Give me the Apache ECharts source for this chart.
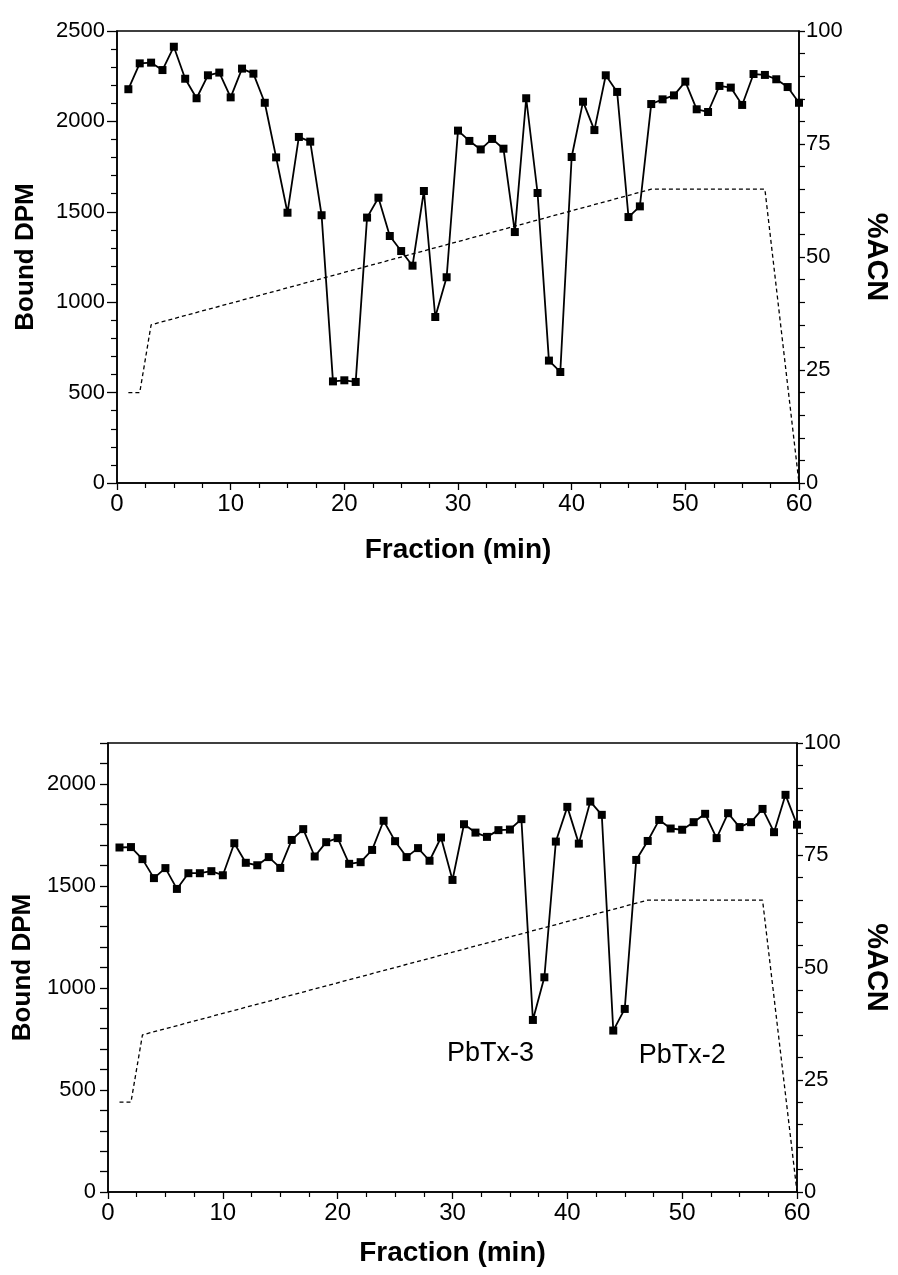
<!DOCTYPE html>
<html lang="en">
<head>
    <meta charset="UTF-8">
    <title>Bound DPM / %ACN</title>
    <script src="https://cdn.jsdelivr.net/npm/echarts@6/dist/echarts.min.js"></script>
    <style>
        html, body { margin: 0; padding: 0; background: #fff; }
        #chart { width: 898px; height: 1275px; }
    </style>
</head>
<body>
<div id="chart"></div>
<script type="text/javascript">
    // fractions 1..60
    var fractions = [];
    for (var f = 1; f <= 60; f++) fractions.push(f);

    // top panel, bound DPM per fraction
    var dpmTop = [2178, 2321, 2325, 2284, 2413, 2236, 2128, 2255, 2270, 2133,
                  2292, 2264, 2103, 1801, 1495, 1914, 1888, 1481, 562, 568,
                  559, 1468, 1578, 1366, 1283, 1202, 1615, 918, 1138, 1949,
                  1892, 1845, 1903, 1849, 1388, 2128, 1604, 677, 614, 1803,
                  2109, 1952, 2255, 2163, 1471, 1530, 2096, 2122, 2144, 2220,
                  2067, 2052, 2196, 2187, 2091, 2262, 2257, 2233, 2190, 2103];

    // bottom panel
    var dpmBottom = [1688, 1690, 1631, 1538, 1587, 1485, 1562, 1562, 1572, 1552,
                     1709, 1613, 1601, 1641, 1588, 1725, 1778, 1644, 1714, 1734,
                     1608, 1616, 1676, 1819, 1719, 1641, 1685, 1623, 1737, 1529,
                     1802, 1761, 1740, 1773, 1776, 1827, 843, 1052, 1717, 1887,
                     1707, 1913, 1848, 791, 897, 1627, 1720, 1823, 1781, 1775,
                     1812, 1853, 1734, 1856, 1788, 1812, 1877, 1763, 1946, 1800];

    // acetonitrile gradient (same for both runs)
    var acnTime = [1, 2, 3, 47, 57, 60];
    var acnPct = [20, 20, 35, 65, 65, 0];

    // peak labels (bottom panel)
    var annoNames = ['PbTx-3', 'PbTx-2'];
    var annoX = [33.3, 50.0];
    var annoY = [676, 667];

    var xTicks = [0, 10, 20, 30, 40, 50, 60];

    function pairs(xs, ys) {
        var out = [];
        for (var i = 0; i < xs.length; i++) out.push([xs[i], ys[i]]);
        return out;
    }

    var FONT = "'Liberation Sans', Arial, sans-serif";
    var black = '#000';

    function xAxis(idx, gap) {
        return {
            type: 'value', gridIndex: idx,
            min: xTicks[0], max: xTicks[xTicks.length - 1], interval: 10,
            name: 'Fraction (min)', nameLocation: 'middle', nameGap: gap,
            nameTextStyle: { fontFamily: FONT, fontWeight: 'bold', fontSize: 28, color: black },
            axisLine: { lineStyle: { color: black, width: 1.5 } },
            axisTick: { length: 7, lineStyle: { color: black, width: 1.3 } },
            minorTick: { show: true, splitNumber: 4, length: 5, lineStyle: { color: black, width: 1.2 } },
            axisLabel: { margin: 9, fontFamily: FONT, fontSize: 24, color: black },
            splitLine: { show: false }
        };
    }

    function leftAxis(idx, max, gap, tickEvery) {
        return {
            type: 'value', gridIndex: idx, position: 'left',
            min: 0, max: max, interval: tickEvery,
            name: 'Bound DPM', nameLocation: 'middle', nameGap: gap,
            nameTextStyle: { fontFamily: FONT, fontWeight: 'bold', fontSize: 26, color: black },
            axisLine: { show: true, lineStyle: { color: black, width: 1.5 } },
            axisTick: { length: tickEvery === 500 ? 10 : 8, lineStyle: { color: black, width: 1.3 } },
            minorTick: { show: tickEvery === 500, splitNumber: 5, length: 6, lineStyle: { color: black, width: 1.2 } },
            axisLabel: {
                margin: 12, fontFamily: FONT, fontSize: 22, color: black,
                formatter: function (v) { return v % 500 === 0 ? String(v) : ''; }
            },
            splitLine: { show: false }
        };
    }

    function rightAxis(idx, gap) {
        return {
            type: 'value', gridIndex: idx, position: 'right',
            min: 0, max: 100, interval: 25,
            name: '%ACN', nameLocation: 'middle', nameGap: gap, nameRotate: -90,
            nameTextStyle: { fontFamily: FONT, fontWeight: 'bold', fontSize: 29, color: black },
            axisLine: { show: true, lineStyle: { color: black, width: 1.5 } },
            axisTick: { length: 6, lineStyle: { color: black, width: 1.3 } },
            minorTick: { show: true, splitNumber: 5, length: 6, lineStyle: { color: black, width: 1.2 } },
            axisLabel: { margin: 7, fontFamily: FONT, fontSize: 22, color: black },
            splitLine: { show: false }
        };
    }

    function dpmSeries(xi, yi, vals) {
        return {
            type: 'line', xAxisIndex: xi, yAxisIndex: yi,
            data: pairs(fractions, vals),
            symbol: 'rect', symbolSize: 8, showAllSymbol: true,
            lineStyle: { color: black, width: 1.8 },
            itemStyle: { color: black },
            animation: false, z: 3
        };
    }

    function acnSeries(xi, yi) {
        return {
            type: 'line', xAxisIndex: xi, yAxisIndex: yi,
            data: pairs(acnTime, acnPct),
            symbol: 'none',
            lineStyle: { color: black, width: 1.3, type: [4, 3] },
            animation: false, z: 2
        };
    }

    var annoData = [];
    for (var k = 0; k < annoNames.length; k++) {
        annoData.push({ name: annoNames[k], coord: [annoX[k], annoY[k]] });
    }

    var bottomSeries = dpmSeries(1, 2, dpmBottom);
    bottomSeries.markPoint = {
        symbol: 'rect', symbolSize: 1,
        itemStyle: { color: 'rgba(0,0,0,0)' },
        label: { show: true, position: 'inside', formatter: '{b}', fontFamily: FONT, fontSize: 27, color: black },
        data: annoData
    };

    var myChart = echarts.init(document.getElementById('chart'), null, { renderer: 'canvas' });
    var option = {
        backgroundColor: '#fff',
        animation: false,
        grid: [
            { left: 117, right: 96, top: 31, bottom: 792, show: true, borderColor: black, borderWidth: 1.5, backgroundColor: 'transparent' },
            { left: 108, right: 101, top: 743, bottom: 83, show: true, borderColor: black, borderWidth: 1.5, backgroundColor: 'transparent' }
        ],
        xAxis: [xAxis(0, 53), xAxis(1, 47)],
        yAxis: [leftAxis(0, 2500, 78, 500), rightAxis(0, 62), leftAxis(1, 2200, 66, 100), rightAxis(1, 64)],
        series: [
            acnSeries(0, 1),
            dpmSeries(0, 0, dpmTop),
            acnSeries(1, 3),
            bottomSeries
        ]
    };
    myChart.setOption(option);
</script>
</body>
</html>
